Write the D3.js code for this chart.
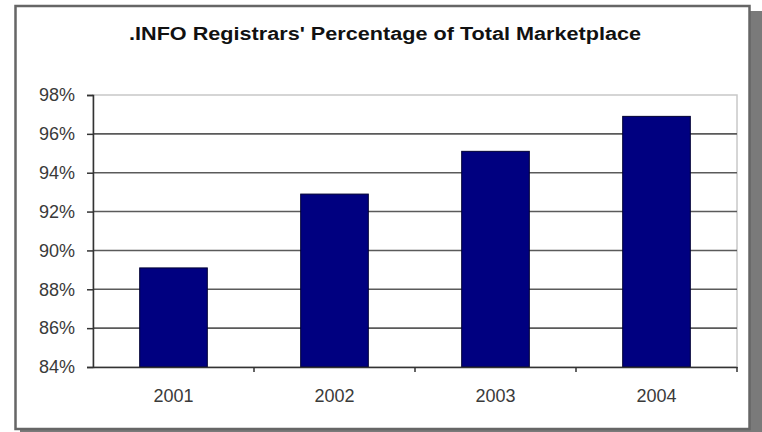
<!DOCTYPE html>
<html>
<head>
<meta charset="utf-8">
<script src="https://cdn.jsdelivr.net/npm/d3@7/dist/d3.min.js"></script>
<style>
body { margin: 0; background: #fff; }
svg { display: block; font-family: Arial, "Liberation Sans", sans-serif; }
</style>
</head>
<body>
<script>
var w = 762;
var h = 432;

var title = ".INFO Registrars' Percentage of Total Marketplace";
var years = ["2001", "2002", "2003", "2004"];
var share = [89.1, 92.9, 95.1, 96.9];
var yTicks = [84, 86, 88, 90, 92, 94, 96, 98];

var plot = {left: 93, right: 737, top: 95, bottom: 367};

var svg = d3.select("body").append("svg")
    .attr("width", w)
    .attr("height", h);

// shadow + chart frame
svg.append("rect")
    .attr("x", 20).attr("y", 11)
    .attr("width", 760).attr("height", 430)
    .attr("fill", "#7a7a7a");
svg.append("rect")
    .attr("x", 15.5).attr("y", 6)
    .attr("width", 734).attr("height", 423)
    .attr("fill", "#fff")
    .attr("stroke", "#666")
    .attr("stroke-width", 2.5);

svg.append("text")
    .attr("x", 385).attr("y", 40)
    .attr("text-anchor", "middle")
    .attr("textLength", 512)
    .attr("lengthAdjust", "spacingAndGlyphs")
    .style("font-size", "18px")
    .style("font-weight", "bold")
    .attr("fill", "#111")
    .text(title);

var x = d3.scaleBand().domain(years).range([plot.left, plot.right]);
var y = d3.scaleLinear().domain([84, 98]).range([plot.bottom, plot.top]);

// plot area border
svg.append("rect")
    .attr("x", plot.left).attr("y", plot.top)
    .attr("width", plot.right - plot.left).attr("height", plot.bottom - plot.top)
    .attr("fill", "none")
    .attr("stroke", "#c8c8c8")
    .attr("stroke-width", 1.5);

// gridlines
svg.selectAll("line.grid").data(yTicks.filter(function(d) { return d > 84 && d < 98; }))
  .enter().append("line")
    .attr("class", "grid")
    .attr("x1", plot.left).attr("x2", plot.right)
    .attr("y1", function(d) { return y(d); })
    .attr("y2", function(d) { return y(d); })
    .attr("stroke", "#5a5a5a")
    .attr("stroke-width", 1.6);

// bars
var bw = x.bandwidth() * 0.42;
svg.selectAll("rect.bar").data(share)
  .enter().append("rect")
    .attr("class", "bar")
    .attr("x", function(d, i) { return x(years[i]) + (x.bandwidth() - bw) / 2; })
    .attr("y", function(d) { return y(d); })
    .attr("width", bw)
    .attr("height", function(d) { return y(84) - y(d); })
    .attr("fill", "#000080")
    .attr("stroke", "#000033")
    .attr("stroke-width", 1);

// y axis
var yAxis = svg.append("g")
    .attr("transform", "translate(" + plot.left + ",0)")
    .call(d3.axisLeft(y).tickValues(yTicks).tickSize(6).tickPadding(12)
        .tickFormat(function(d) { return d + "%"; }));
yAxis.select(".domain").attr("stroke", "#333").attr("stroke-width", 1.5);
yAxis.selectAll(".tick line").attr("stroke", "#333").attr("stroke-width", 1.5);
yAxis.selectAll(".tick text")
    .style("font-size", "18px")
    .style("font-family", "Arial, 'Liberation Sans', sans-serif")
    .attr("fill", "#3a3a3a");

// x axis
var xAxis = svg.append("g")
    .attr("transform", "translate(0," + plot.bottom + ")")
    .call(d3.axisBottom(x).tickSize(0).tickPadding(22));
xAxis.select(".domain").attr("stroke", "#333").attr("stroke-width", 1.5);
xAxis.selectAll(".tick text")
    .style("font-size", "18px")
    .style("font-family", "Arial, 'Liberation Sans', sans-serif")
    .attr("fill", "#3a3a3a");
svg.selectAll("line.xtick").data(years)
  .enter().append("line")
    .attr("class", "xtick")
    .attr("x1", function(d) { return x(d) + x.bandwidth(); })
    .attr("x2", function(d) { return x(d) + x.bandwidth(); })
    .attr("y1", plot.bottom).attr("y2", plot.bottom + 5)
    .attr("stroke", "#333").attr("stroke-width", 1.5);
</script>
</body>
</html>
